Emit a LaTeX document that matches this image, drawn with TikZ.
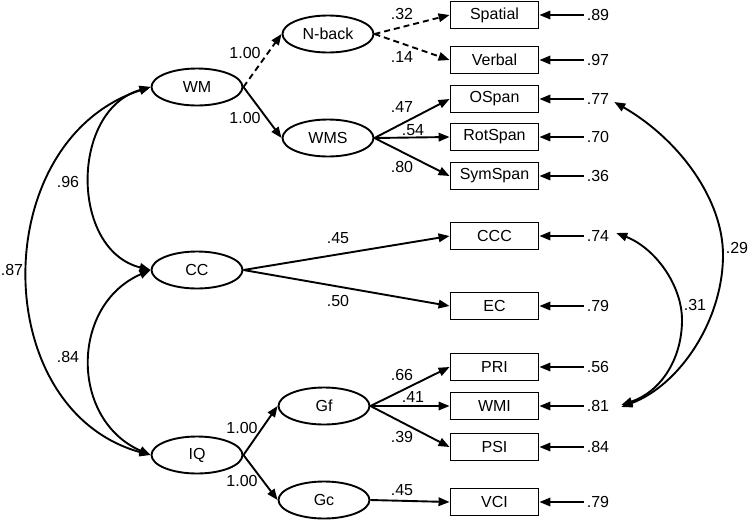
\documentclass[tikz,border=0pt]{standalone}
\usepackage{fontspec}
\setmainfont{Liberation Sans}
\usetikzlibrary{arrows.meta,shapes.geometric}
\begin{document}
\begin{tikzpicture}[x=1pt,y=-1pt,
 lat/.style={ellipse,draw,line width=1.9pt,minimum width=91pt,minimum height=37pt,inner sep=0pt},
 obs/.style={rectangle,draw,line width=1.9pt,minimum width=88pt,minimum height=27pt,inner sep=0pt},
 lbl/.style={inner sep=0pt},
 arr/.style={line width=1.9pt,-{Triangle[length=11pt,width=8.5pt]}},
 darr/.style={arr,dash pattern=on 6pt off 4pt},
 cov/.style={line width=1.9pt,{Triangle[length=11pt,width=8.5pt]}-{Triangle[length=11pt,width=8.5pt]}},
 font=\fontsize{16}{19}\selectfont]
\useasboundingbox (0,0) rectangle (750,520);
% latent
\node[lat] (WM) at (197,87) {WM};
\node[lat] (Nback) at (328,34) {N-back};
\node[lat] (WMS) at (328,138) {WMS};
\node[lat] (CC) at (197,270) {CC};
\node[lat] (IQ) at (197,455) {IQ};
\node[lat] (Gf) at (324,406) {Gf};
\node[lat] (Gc) at (324,500) {Gc};
% observed
\node[obs] (Spatial) at (494.5,15) {Spatial};
\node[obs] (Verbal) at (494.5,60) {Verbal};
\node[obs] (OSpan) at (494.5,99) {OSpan};
\node[obs] (RotSpan) at (494.5,137) {RotSpan};
\node[obs] (SymSpan) at (494.5,176) {SymSpan};
\node[obs] (CCC) at (494.5,236) {CCC};
\node[obs] (EC) at (494.5,306) {EC};
\node[obs] (PRI) at (494.5,367) {PRI};
\node[obs] (WMI) at (494.5,406) {WMI};
\node[obs] (PSI) at (494.5,447) {PSI};
\node[obs] (VCI) at (494.5,502) {VCI};
% errors
\foreach \n/\v/\t in {Spatial/15/.89,Verbal/60/.97,OSpan/99/.77,RotSpan/137/.70,SymSpan/176/.36,CCC/236/.74,EC/306/.79,PRI/367/.56,WMI/406/.81,PSI/447/.84,VCI/502/.79}{
  \node[lbl] (e\n) at (598,\v) {\t};
  \draw[arr] ([xshift=-3pt]e\n.west) -- (\n.east);
}
% loadings
\draw[darr] (WM.east) -- (Nback.west);
\draw[arr] (WM.east) -- (WMS.west);
\draw[darr] (Nback.east) -- (Spatial.west);
\draw[darr] (Nback.east) -- (Verbal.west);
\draw[arr] (WMS.east) -- (OSpan.west);
\draw[arr] (WMS.east) -- (RotSpan.west);
\draw[arr] (WMS.east) -- (SymSpan.west);
\draw[arr] (CC.east) -- (CCC.west);
\draw[arr] (CC.east) -- (EC.west);
\draw[arr] (IQ.east) -- (Gf.west);
\draw[arr] (IQ.east) -- (Gc.west);
\draw[arr] (Gf.east) -- (PRI.west);
\draw[arr] (Gf.east) -- (WMI.west);
\draw[arr] (Gf.east) -- (PSI.west);
\draw[arr] (Gc.east) -- (VCI.west);
% loading labels
\node[lbl] (l1) at (245,53) {1.00};
\node[lbl] (l2) at (245,118) {1.00};
\node[lbl] (l3) at (402,14) {.32};
\node[lbl] (l4) at (402,57) {.14};
\node[lbl] (l5) at (402,107) {.47};
\node[lbl] (l6) at (413,130) {.54};
\node[lbl] (l7) at (402,167) {.80};
\node[lbl] (l8) at (338,238) {.45};
\node[lbl] (l9) at (338,301) {.50};
\node[lbl] (l10) at (242,428) {1.00};
\node[lbl] (l11) at (242,481) {1.00};
\node[lbl] (l12) at (402,375) {.66};
\node[lbl] (l13) at (413,397) {.41};
\node[lbl] (l14) at (402,437) {.39};
\node[lbl] (l15) at (402,490) {.45};
% covariances left
\draw[cov] (WM.west) .. controls (70,110) and (70,250) .. (CC.west);
\draw[cov] (WM.west) .. controls (-13,140) and (-13,410) .. (IQ.west);
\draw[cov] (CC.west) .. controls (70,305) and (70,420) .. (IQ.west);
\node[lbl] (c1) at (68,182) {.96};
\node[lbl] (c2) at (12,270) {.87};
\node[lbl] (c3) at (68,357) {.84};
% covariances right
\coordinate (m29) at (723,255);
\coordinate (m31) at (682,320);
\draw[cov] ([shift={(5,3)}]eOSpan.east) .. controls (680,140) and (723,200) .. (m29) .. controls (723,320) and (680,385) .. ([shift={(12,1)}]eWMI.east);
\draw[cov] ([shift={(7,-3)}]eCCC.east) .. controls (655,248) and (682,285) .. (m31) .. controls (682,360) and (660,392) .. ([shift={(12,-1)}]eWMI.east);
\node[lbl] (c4) at (737,248) {.29};
\node[lbl] (c5) at (695,305) {.31};
\end{tikzpicture}
\end{document}
